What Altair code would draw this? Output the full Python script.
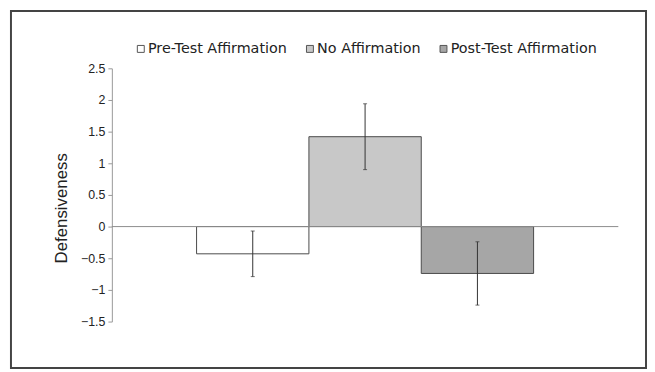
import altair as alt
import pandas as pd

groups = ["Pre-Test Affirmation", "No Affirmation", "Post-Test Affirmation"]
means = [-0.43, 1.42, -0.74]
errors = [0.36, 0.52, 0.50]
fills = ["#ffffff", "#c8c8c8", "#a6a6a6"]
y_ticks = [-1.5, -1.0, -0.5, 0.0, 0.5, 1.0, 1.5, 2.0, 2.5]

df = pd.DataFrame({"group": groups, "mean": means, "err": errors})
df["lo"] = df["mean"] - df["err"]
df["hi"] = df["mean"] + df["err"]

W, H = 512, 256

x = alt.X("group:N", sort=groups, axis=None,
          scale=alt.Scale(paddingInner=0, paddingOuter=0.754))
yscale = alt.Scale(domain=[-1.5, 2.5], nice=False, zero=False)
yaxis = alt.Axis(values=y_ticks, format="~g", title="Defensiveness",
                 grid=False,
                 labelOverlap=False, labelFlush=False,
                 labelFont="Liberation Sans", labelFontSize=12.5,
                 labelColor="#222", labelPadding=3,
                 domainColor="#999", tickColor="#999", tickSize=4,
                 titleX=-51, titleY=141, titleBaseline="middle",
                 titleFont="Liberation Sans", titleFontSize=17,
                 titleFontWeight="normal", titleColor="#222")

bars = alt.Chart(df).mark_bar(stroke="#4a4a4a", strokeWidth=1).encode(
    x=x,
    y=alt.Y("mean:Q", scale=yscale, axis=yaxis),
    fill=alt.Fill("group:N", sort=groups,
                  scale=alt.Scale(domain=groups, range=fills),
                  legend=alt.Legend(title=None, orient="none", direction="horizontal",
                                    legendX=22, legendY=-27,
                                    symbolType="square", symbolSize=49,
                                    symbolStrokeColor="#555", symbolStrokeWidth=1,
                                    labelFont="DejaVu Sans", labelFontSize=14.5,
                                    labelLimit=400,
                                    labelColor="#222", labelOffset=0,
                                    columnPadding=15)),
)

zero = alt.Chart(alt.Data(values=[{"v": 0}])).mark_rule(color="#8c8c8c", strokeWidth=1).encode(
    y=alt.Y("v:Q", scale=yscale, axis=yaxis)
)

err_rule = alt.Chart(df).mark_rule(color="#333", strokeWidth=1).encode(
    x=x, y=alt.Y("lo:Q", scale=yscale, axis=yaxis), y2="hi:Q"
)
cap_lo = alt.Chart(df).mark_tick(color="#333", size=4, thickness=1).encode(
    x=x, y=alt.Y("lo:Q", scale=yscale, axis=yaxis)
)
cap_hi = alt.Chart(df).mark_tick(color="#333", size=4, thickness=1).encode(
    x=x, y=alt.Y("hi:Q", scale=yscale, axis=yaxis)
)

frame = alt.Chart(alt.Data(values=[{"f": 1}])).mark_rect(
    fill=None, stroke="#444", strokeWidth=2
).encode(
    x=alt.value(-102), x2=alt.value(540), y=alt.value(-58), y2=alt.value(303)
)

chart = alt.layer(bars, zero, err_rule, cap_lo, cap_hi, frame).properties(
    width=W, height=H,
    background="white",
    padding={"left": 105, "top": 59, "right": 29, "bottom": 48},
    autosize=alt.AutoSizeParams(type="none"),
).configure_view(strokeWidth=0, stroke="transparent").configure_axis(grid=False)

chart.save("out.html", embed_options={"renderer": "svg", "actions": False})
